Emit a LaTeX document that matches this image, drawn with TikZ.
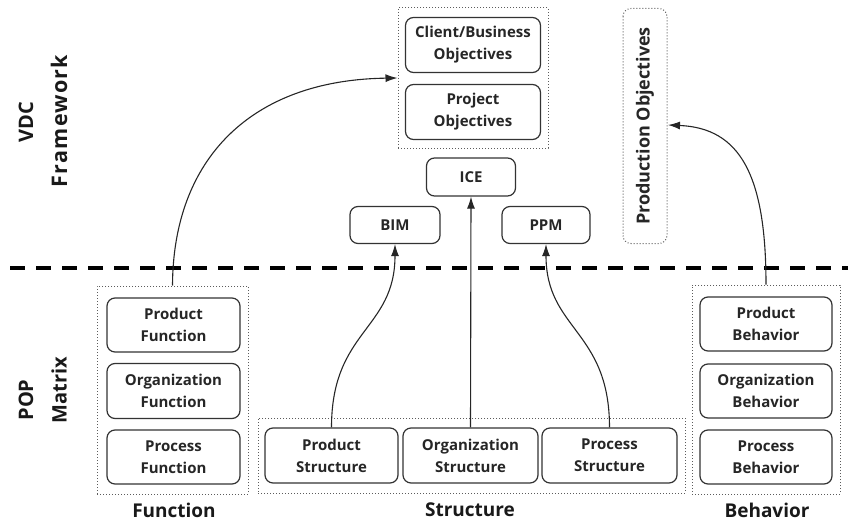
\documentclass[tikz,border=0pt]{standalone}
\usepackage{fontspec}
\setmainfont{Open Sans}
\newfontfamily\spacedfont[LetterSpace=6]{Open Sans}
\usetikzlibrary{arrows.meta}
\definecolor{ln}{HTML}{333333}
\tikzset{
  box/.style={draw=ln, line width=1.2pt, rounded corners=8pt, align=center, font=\bfseries\fontsize{15}{22}\selectfont, text=black!85, inner sep=0pt},
  grp/.style={draw=ln!80, line width=1pt, dotted, inner sep=0pt},
  arr/.style={draw=black!85, line width=1.1pt, -{Latex[length=12pt,width=8pt]}},
  side/.style={font=\bfseries\fontsize{20}{24}\selectfont, rotate=90, text=black!90, inner sep=0pt},
  captxt/.style={font=\bfseries\fontsize{19}{22}\selectfont, text=black!90}
}
\begin{document}
\begin{tikzpicture}[x=1pt,y=-1pt]
\useasboundingbox (0,0) rectangle (851,524);
% side labels
\node[side] (vdc) at (26,122) {VDC};
\node[side, font=\spacedfont\bfseries\fontsize{21.5}{24}\selectfont] (fw) at (59,121) {Framework};
\node[side] (pop) at (26,400) {POP};
\node[side] (mtx) at (59,390) {Matrix};
% dashed separator
\coordinate (dl) at (10,268);
\coordinate (dr) at (848,268);
\draw[line width=3.2pt, dash pattern=on 15pt off 11pt] (dl) -- (dr);
% top objectives group
\node[grp, minimum width=150pt, minimum height=140pt] (top) at (473,78) {};
\node[box, minimum width=135pt, minimum height=55pt] (cbo) at (473,45) {Client/Business\\Objectives};
\node[box, minimum width=135pt, minimum height=55pt] (po) at (473,112) {Project\\Objectives};
% ICE BIM PPM
\node[box, minimum width=89pt, minimum height=38pt] (ice) at (471,177) {ICE};
\node[box, minimum width=90pt, minimum height=37pt] (bim) at (395,225) {BIM};
\node[box, minimum width=88pt, minimum height=37pt] (ppm) at (546,225) {PPM};
% production objectives
\node[grp, rounded corners=8pt, rotate=90, minimum width=235pt, minimum height=44pt, font=\bfseries\fontsize{18}{20}\selectfont, text=black!85] (prod) at (645,126) {Production Objectives};
\coordinate (prodr) at (668,125);
% function group
\node[grp, minimum width=151pt, minimum height=208pt] (fg) at (172.5,390) {};
\node[box, minimum width=133pt, minimum height=54pt] (pf) at (173.5,325) {Product\\Function};
\node[box, minimum width=133pt, minimum height=55pt] (of) at (173.5,391) {Organization\\Function};
\node[box, minimum width=133pt, minimum height=54pt] (prf) at (173.5,457) {Process\\Function};
% structure group
\node[grp, minimum width=427pt, minimum height=75pt] (sg) at (471.5,455.5) {};
\node[box, minimum width=133pt, minimum height=55pt] (ps) at (331.5,455.5) {Product\\Structure};
\node[box, minimum width=135pt, minimum height=55pt] (os) at (470.5,455.5) {Organization\\Structure};
\node[box, minimum width=135pt, minimum height=55pt] (prs) at (609.5,455.5) {Process\\Structure};
% behavior group
\node[grp, minimum width=148pt, minimum height=209pt] (bg) at (766,389.5) {};
\node[box, minimum width=132pt, minimum height=54pt] (pb) at (766,324) {Product\\Behavior};
\node[box, minimum width=132pt, minimum height=54pt] (ob) at (766,391) {Organization\\Behavior};
\node[box, minimum width=132pt, minimum height=54pt] (prb) at (766,457) {Process\\Behavior};
% captions
\node[captxt] (cf) at (174,510) {Function};
\node[captxt] (cs) at (470,510) {Structure};
\node[captxt] (cb) at (767,510) {Behavior};
% arrows
\draw[arr] (fg.north) .. controls (173,160) and (250,80) .. (top.west);
\draw[arr] (ps.north) .. controls (331.5,330) and (395,330) .. (bim.south);
\draw[arr] (os.north) -- (ice.south);
\draw[arr] (prs.north) .. controls (609.5,330) and (546,330) .. (ppm.south);
\draw[arr] (bg.north) .. controls (766,175) and (740,128) .. (prodr);
\end{tikzpicture}
\end{document}
